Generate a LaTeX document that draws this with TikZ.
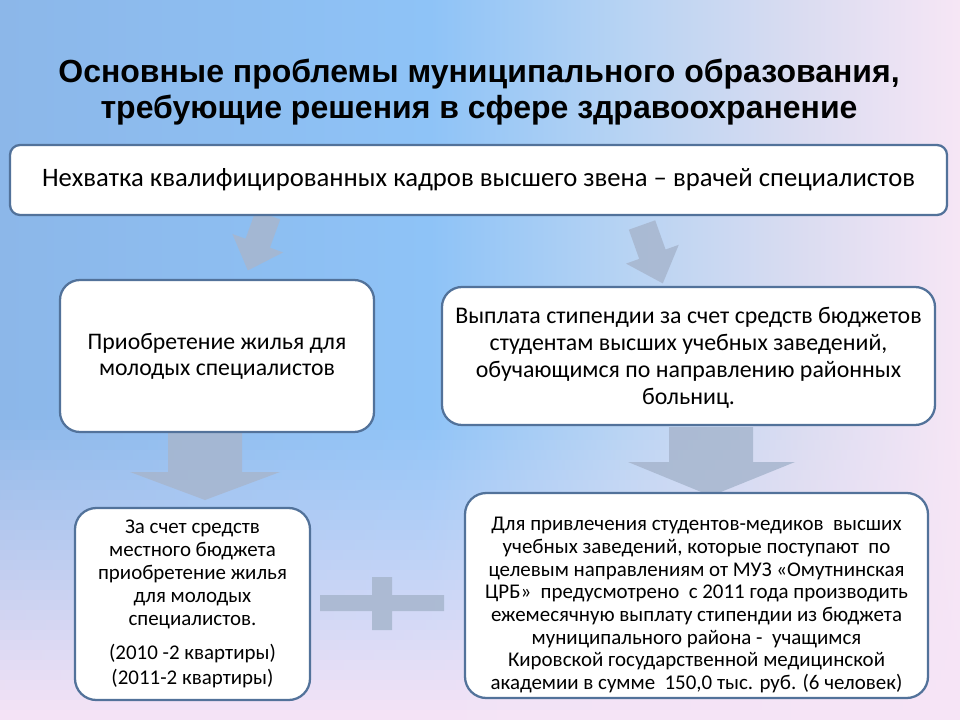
\documentclass[tikz,border=0pt]{standalone}
\usepackage{fontspec}
\setmainfont{Carlito}
\newfontfamily\titlefont{Liberation Sans}

\definecolor{bgA}{HTML}{8CB7E9}
\definecolor{bgB}{HTML}{8EC3F7}
\definecolor{bgC}{HTML}{B6D3F3}
\definecolor{bgD}{HTML}{DADCF1}
\definecolor{bgE}{HTML}{F6E6F5}
\definecolor{bgPink}{HTML}{F6E4F6}
\definecolor{boxborder}{HTML}{52729A}
\definecolor{arrowc}{HTML}{A7B6CE}

\newcommand\bgstrip[3]{%
  \colorlet{sA}{bgA!#3!bgPink}\colorlet{sB}{bgB!#3!bgPink}\colorlet{sC}{bgC!#3!bgPink}%
  \colorlet{sD}{bgD!#3!bgPink}\colorlet{sE}{bgE!#3!bgPink}%
  \shade[left color=sA, right color=sB] (0,#1) rectangle (431,#2);
  \shade[left color=sB, right color=sC] (430,#1) rectangle (621,#2);
  \shade[left color=sC, right color=sD] (620,#1) rectangle (801,#2);
  \shade[left color=sD, right color=sE] (800,#1) rectangle (960,#2);}

\begin{document}
\begin{tikzpicture}[x=0.75pt,y=-0.75pt,
  box/.style={draw=boxborder, line width=1.7pt, fill=white, align=center, inner sep=0pt, text=black},
  boxtext/.style={align=center, inner sep=0pt, text=black},
  arrowfill/.style={fill=arrowc, fill opacity=0.85}]
\useasboundingbox (0,0) rectangle (960,720);
% background: blue-to-pink horizontally, fading to pink towards the bottom
\bgstrip{0}{421}{100}
\foreach \i in {0,...,29}{
  \pgfmathsetmacro{\p}{100-100*(\i+0.5)/30}
  \pgfmathsetmacro{\ya}{420+10*\i}
  \pgfmathsetmacro{\yb}{431+10*\i}
  \bgstrip{\ya}{\yb}{\p}
}

% title
\node[font=\titlefont\bfseries\fontsize{24}{27}\selectfont, align=center, text=black] (title) at (479,92)
  {Основные проблемы муниципального образования,\\ требующие решения в сфере здравоохранение};

% block arrows (behind boxes)
\fill[arrowfill, shift={(268,215)}, rotate=-20]
  (-13,0) -- (13,0) -- (13,30) -- (27,30) -- (0,59) -- (-27,30) -- (-13,30) -- cycle;
\fill[arrowfill, shift={(642,225)}, rotate=19.6]
  (-14,0) -- (14,0) -- (14,31) -- (28,31) -- (0,62) -- (-28,31) -- (-14,31) -- cycle;
\fill[arrowfill] (168,433) -- (242,433) -- (242,472) -- (280,472) -- (205,500) -- (130,472) -- (168,472) -- cycle;
\fill[arrowfill] (669,427) -- (753,427) -- (753,462) -- (795,462) -- (711,496) -- (628,462) -- (669,462) -- cycle;
% plus sign
\fill[arrowfill] (320,595) -- (372,595) -- (372,577) -- (392,577) -- (392,595) -- (444,595) -- (444,611)
  -- (392,611) -- (392,630) -- (372,630) -- (372,611) -- (320,611) -- cycle;

% boxes
\node[box, rounded corners=7.5pt, minimum width=702.75pt, minimum height=52.5pt,
  font=\fontsize{20}{24}\selectfont] (b1) at (478.5,180)
  {Нехватка квалифицированных кадров высшего звена – врачей специалистов};

\node[box, rounded corners=15pt, minimum width=235.5pt, minimum height=114pt,
  font=\fontsize{17.8}{19.5}\selectfont] (b2) at (217,356)
  {Приобретение жилья для\\ молодых специалистов};

\node[box, rounded corners=15pt, minimum width=369.75pt, minimum height=103.5pt] (b3) at (688.5,356) {};
\node[boxtext, font=\fontsize{17.9}{20.25}\selectfont] (t3) at (688.5,358)
  {Выплата стипендии за счет средств бюджетов\\ студентам высших учебных заведений,\\ обучающимся по направлению районных\\ больниц.};

\node[box, rounded corners=16pt, minimum width=176.25pt, minimum height=144pt,
  font=\fontsize{15.7}{17.25}\selectfont] (b4) at (192.5,604)
  {За счет средств\\ местного бюджета\\ приобретение жилья\\ для молодых\\ специалистов.\\[8pt] (2010 -2 квартиры)\\[2pt] (2011-2 квартиры)};

\node[box, rounded corners=16pt, minimum width=347.25pt, minimum height=153.75pt] (b5) at (696.5,595.5) {};
\node[boxtext, font=\fontsize{15.7}{17}\selectfont] (t5) at (696.5,605)
  {Для привлечения студентов-медиков\ \ высших\\ учебных заведений, которые поступают\ \ по\\ целевым направлениям от МУЗ «Омутнинская\\ ЦРБ»\ \ предусмотрено\ \ с 2011 года производить\\ ежемесячную выплату стипендии из бюджета\\ муниципального района -\ \ учащимся\\ Кировской государственной медицинской\\ академии в сумме\ \ 150,0 тыс. руб. (6 человек)};
\end{tikzpicture}
\end{document}
